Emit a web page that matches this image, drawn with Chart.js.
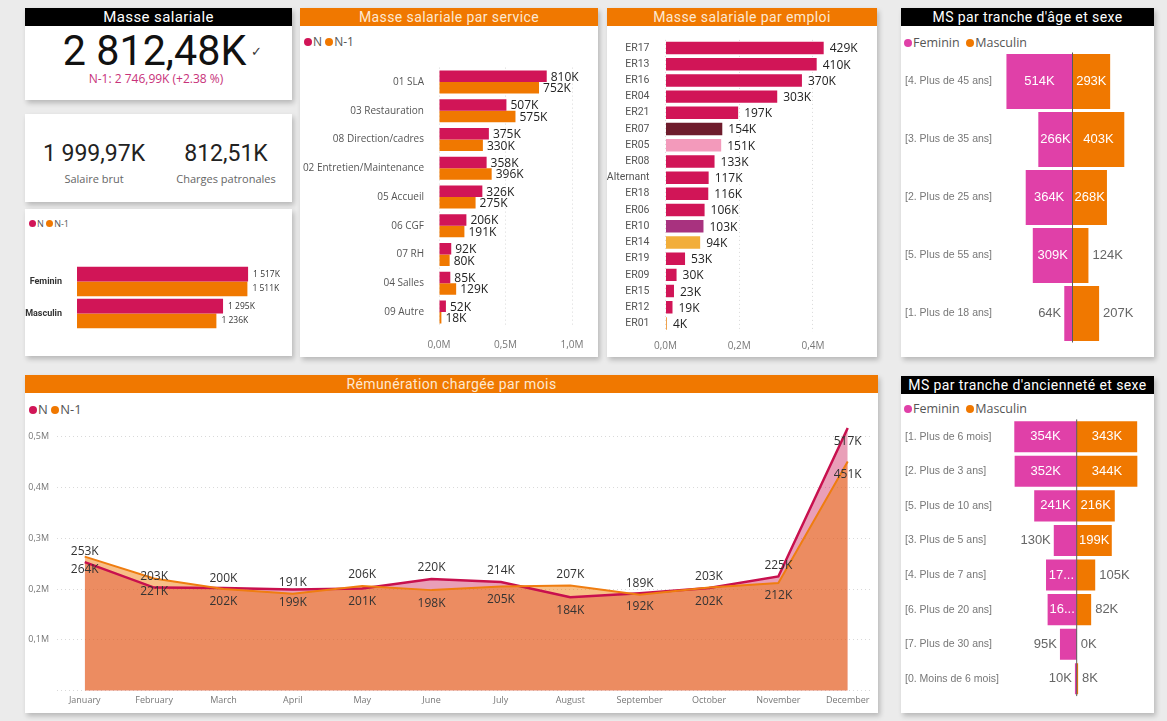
<!DOCTYPE html>
<html lang="fr">
<head>
<meta charset="utf-8">
<title>Masse salariale</title>
<script src="https://cdn.jsdelivr.net/npm/chart.js@4.4.0/dist/chart.umd.min.js"></script>
<style>
  html, body { margin: 0; padding: 0; }
  body {
    width: 1167px; height: 721px; overflow: hidden; position: relative;
    background: #ebebeb; font-family: "Open Sans", "Noto Sans", sans-serif; color: #222;
  }
  .panel { position: absolute; background: #fff; box-shadow: 2px 3px 5px rgba(0,0,0,0.22); }
  .head {
    height: 18px; line-height: 18px; text-align: center; color: #fff;
    font-family: Roboto, sans-serif; font-size: 14px; letter-spacing: 0.4px;
  }
  .black { background: #000; }
  .orange { background: #f07800; color: #fde8d2; }
  .box { position: absolute; }
  .box canvas { display: block; }
  .legend { position: absolute; font-size: 12px; color: #555; white-space: nowrap; }
  .dot { display: inline-block; width: 8px; height: 8px; border-radius: 50%; margin-right: 1px; }
</style>
</head>
<body>

<!-- cartes KPI -->
<div class="panel" style="left:25px;top:8px;width:267px;height:92px">
  <div class="head black" style="font-size:15px">Masse salariale</div>
  <div id="kpiMain" style="position:absolute;left:0;top:19px;width:260px;text-align:center;font-family:Roboto;font-size:43px;line-height:47px;color:#111">
    <span style="display:inline-block;transform:scaleX(0.96)"></span></div>
  <div style="position:absolute;left:226px;top:34px;font-size:13px;color:#333">&#10003;</div>
  <div id="kpiPrev" style="position:absolute;left:0;top:62px;width:262px;text-align:center;font-size:12px;color:#c8327a"></div>
</div>

<div class="panel" style="left:25px;top:114px;width:267px;height:88px">
  <div id="kpiBrut" style="position:absolute;left:0;top:26px;width:138px;text-align:center;font-family:Roboto;font-size:23px;color:#222"></div>
  <div style="position:absolute;left:0;top:57px;width:138px;text-align:center;font-size:11px;color:#666">Salaire brut</div>
  <div id="kpiCharges" style="position:absolute;left:126px;top:26px;width:150px;text-align:center;font-family:Roboto;font-size:23px;color:#222"></div>
  <div style="position:absolute;left:126px;top:57px;width:150px;text-align:center;font-size:11px;color:#666">Charges patronales</div>
</div>

<div class="panel" style="left:25px;top:209px;width:267px;height:147px"></div>
<div class="legend" style="left:29px;top:217px;font-size:9px"><span class="dot" style="background:#d11557;width:7px;height:7px"></span>N <span class="dot" style="background:#f07800;width:7px;height:7px"></span>N-1</div>
<div class="box" style="left:25px;top:240px;width:267px;height:110px"><canvas id="sexeChart"></canvas></div>

<!-- service -->
<div class="panel" style="left:300px;top:8px;width:298px;height:349px">
  <div class="head orange">Masse salariale par service</div>
</div>
<div class="legend" style="left:304px;top:33px"><span class="dot" style="background:#d11557"></span>N <span class="dot" style="background:#f07800"></span>N-1</div>
<div class="box" style="left:300px;top:50px;width:298px;height:307px"><canvas id="serviceChart"></canvas></div>

<!-- emploi -->
<div class="panel" style="left:607px;top:8px;width:270px;height:349px">
  <div class="head orange">Masse salariale par emploi</div>
</div>
<div class="box" style="left:607px;top:30px;width:270px;height:327px"><canvas id="emploiChart"></canvas></div>

<!-- age -->
<div class="panel" style="left:901px;top:8px;width:253px;height:349px">
  <div class="head black">MS par tranche d'âge et sexe</div>
</div>
<div class="legend" style="left:904px;top:34px;font-size:12.5px"><span class="dot" style="background:#e040a8"></span>Feminin&nbsp; <span class="dot" style="background:#f07800"></span>Masculin</div>
<div class="box" style="left:901px;top:50px;width:253px;height:300px"><canvas id="ageChart"></canvas></div>

<!-- mois -->
<div class="panel" style="left:25px;top:375px;width:853px;height:338px">
  <div class="head orange">Rémunération chargée par mois</div>
</div>
<div class="legend" style="left:29px;top:400px;font-size:13px"><span class="dot" style="background:#d11557"></span>N <span class="dot" style="background:#f07800"></span>N-1</div>
<div class="box" style="left:25px;top:415px;width:853px;height:298px"><canvas id="moisChart"></canvas></div>

<!-- anciennete -->
<div class="panel" style="left:901px;top:376px;width:253px;height:337px">
  <div class="head black">MS par tranche d'ancienneté et sexe</div>
</div>
<div class="legend" style="left:904px;top:400px;font-size:12.5px"><span class="dot" style="background:#e040a8"></span>Feminin&nbsp; <span class="dot" style="background:#f07800"></span>Masculin</div>
<div class="box" style="left:901px;top:415px;width:253px;height:290px"><canvas id="ancChart"></canvas></div>

<script>
// ---- données (valeurs en K€) ----
const kpiTotal = '2 812,48K';
const kpiPrevious = 'N-1: 2 746,99K (+2.38 %)';
const kpiBrut = '1 999,97K';
const kpiCharges = '812,51K';

const sexes = ['Feminin', 'Masculin'];
const sexeN = [1517, 1295];
const sexeN1 = [1511, 1236];

const services = ['01 SLA', '03 Restauration', '08 Direction/cadres', '02 Entretien/Maintenance',
  '05 Accueil', '06 CGF', '07 RH', '04 Salles', '09 Autre'];
const serviceN = [810, 507, 375, 358, 326, 206, 92, 85, 52];
const serviceN1 = [752, 575, 330, 396, 275, 191, 80, 129, 18];

const emplois = ['ER17', 'ER13', 'ER16', 'ER04', 'ER21', 'ER07', 'ER05', 'ER08', 'Alternant',
  'ER18', 'ER06', 'ER10', 'ER14', 'ER19', 'ER09', 'ER15', 'ER12', 'ER01'];
const emploiValues = [429, 410, 370, 303, 197, 154, 151, 133, 117, 116, 106, 103, 94, 53, 30, 23, 19, 4];

const tranchesAge = ['[4. Plus de 45 ans]', '[3. Plus de 35 ans]', '[2. Plus de 25 ans]',
  '[5. Plus de 55 ans]', '[1. Plus de 18 ans]'];
const ageFeminin = [514, 266, 364, 309, 64];
const ageMasculin = [293, 403, 268, 124, 207];

const mois = ['January', 'February', 'March', 'April', 'May', 'June', 'July', 'August',
  'September', 'October', 'November', 'December'];
const moisN = [253, 203, 202, 199, 201, 220, 214, 184, 192, 202, 225, 517];
const moisN1 = [264, 221, 200, 191, 206, 198, 205, 207, 189, 203, 212, 451];

const tranchesAnc = ['[1. Plus de 6 mois]', '[2. Plus de 3 ans]', '[5. Plus de 10 ans]',
  '[3. Plus de 5 ans]', '[4. Plus de 7 ans]', '[6. Plus de 20 ans]', '[7. Plus de 30 ans]',
  '[0. Moins de 6 mois]'];
const ancFeminin = [354, 352, 241, 130, 174, 165, 95, 10];
const ancMasculin = [343, 344, 216, 199, 105, 82, 0, 8];

// ---- couleurs ----
const colN = '#d11557';
const colN1 = '#f07800';
const colFem = '#e040a8';
const emploiColors = emploiValues.map((v, i) => ({
  ER07: '#6e1c2c', ER05: '#f39abb', ER10: '#a8327f', ER14: '#f2ae3a', ER01: '#f0a048'
}[emplois[i]] || colN));

const segoe = '"Open Sans", "Noto Sans", sans-serif';
const arial = '"Liberation Sans", Arial, sans-serif';

document.querySelector('#kpiMain span').textContent = kpiTotal;
document.getElementById('kpiPrev').textContent = kpiPrevious;
document.getElementById('kpiBrut').textContent = kpiBrut;
document.getElementById('kpiCharges').textContent = kpiCharges;

Chart.defaults.animation = false;
Chart.defaults.responsive = true;
Chart.defaults.maintainAspectRatio = false;
Chart.defaults.plugins.legend.display = false;
Chart.defaults.plugins.tooltip.enabled = false;

const fmtK = v => Math.round(Math.abs(v)) + 'K';
const fmtSpaced = v => String(Math.round(v)).replace(/\B(?=(\d{3})+(?!\d))/g, ' ') + 'K';
const fmtM = v => (v / 1000).toFixed(1).replace('.', ',') + 'M';

// largeur/hauteur d'axe fixes, sans marge automatique
const fixWidth = w => s => { s.width = w; s.paddingTop = 0; s.paddingBottom = 0; };
const fixHeight = h => s => { s.height = h; s.paddingLeft = 0; s.paddingRight = 0; };

// étiquettes de valeurs (remplace chartjs-plugin-datalabels)
const valueLabels = {
  id: 'valueLabels',
  afterDatasetsDraw(chart, args, opts) {
    const ctx = chart.ctx;
    const area = chart.chartArea;
    ctx.save();
    ctx.textBaseline = 'middle';
    const x0 = chart.scales.x.getPixelForValue(0);
    if (opts.zeroLine) {
      ctx.strokeStyle = opts.zeroLine;
      ctx.lineWidth = 1;
      ctx.beginPath();
      ctx.moveTo(x0, area.top);
      ctx.lineTo(x0, area.bottom);
      ctx.stroke();
    }
    chart.data.datasets.forEach((ds, di) => {
      const meta = chart.getDatasetMeta(di);
      meta.data.forEach((el, i) => {
        const v = ds.data[i];
        const val = typeof v === 'object' ? v.y : v;
        ctx.font = opts.font;
        if (opts.mode === 'barEnd') {
          const p = el.getProps(['x', 'y'], true);
          ctx.fillStyle = opts.color;
          ctx.textAlign = 'left';
          ctx.fillText(opts.spaced ? fmtSpaced(val) : fmtK(val), p.x + (opts.gap || 4), p.y + (opts.dy || 0));
        } else if (opts.mode === 'pyramid') {
          const y = el.getProps(['y'], true).y;
          const end = chart.scales.x.getPixelForValue(val);
          const w = Math.abs(end - x0);
          const txt = fmtK(val);
          const tw = ctx.measureText(txt).width;
          const mid = (end + x0) / 2;
          const neg = val < 0;
          if (tw + 2 <= w) {
            ctx.fillStyle = '#fff';
            ctx.textAlign = 'center';
            ctx.fillText(txt, mid, y);
          } else if (w >= 28) {
            // trop étroit : texte tronqué comme Power BI
            let n = txt.length;
            while (n > 1 && ctx.measureText(txt.slice(0, n) + '...').width > w - 2) n--;
            ctx.fillStyle = '#fff';
            ctx.textAlign = 'center';
            ctx.fillText(txt.slice(0, n) + '...', mid, y);
          } else {
            ctx.fillStyle = '#666';
            ctx.textAlign = neg ? 'right' : 'left';
            ctx.fillText(txt, neg ? end - 3 : end + 4, y);
          }
        } else if (opts.mode === 'line') {
          const p = el.getProps(['x', 'y'], true);
          const above = opts.positions[di][i] === 'a';
          ctx.fillStyle = opts.color;
          ctx.textAlign = 'center';
          ctx.fillText(fmtK(val), p.x, above ? p.y - 11 : p.y + 13);
        }
      });
    });
    ctx.restore();
  }
};

const dotted = { display: false, dash: [1, 3] };
const gridDots = { color: '#d9d9d9', lineWidth: 1, drawTicks: false };

// --- N / N-1 par sexe ---
new Chart(document.getElementById('sexeChart'), {
  type: 'bar',
  data: {
    labels: sexes,
    datasets: [
      { label: 'N', data: sexeN, backgroundColor: colN },
      { label: 'N-1', data: sexeN1, backgroundColor: colN1 }
    ]
  },
  options: {
    indexAxis: 'y',
    layout: { padding: { top: 25.5, bottom: 20.5, right: 12, left: 0 } },
    datasets: { bar: { categoryPercentage: 0.92, barPercentage: 1 } },
    scales: {
      x: { display: false, min: 0, max: 1800 },
      y: {
        afterFit: fixWidth(52),
        grid: { display: false }, border: { display: false },
        ticks: { color: '#333', padding: 7, font: { family: 'Roboto', size: 9, weight: 'bold' } }
      }
    },
    plugins: { valueLabels: { mode: 'barEnd', spaced: true, font: '8.5px ' + segoe, color: '#333', gap: 5 } }
  },
  plugins: [valueLabels]
});

// --- par service ---
new Chart(document.getElementById('serviceChart'), {
  type: 'bar',
  data: {
    labels: services,
    datasets: [
      { label: 'N', data: serviceN, backgroundColor: colN },
      { label: 'N-1', data: serviceN1, backgroundColor: colN1 }
    ]
  },
  options: {
    indexAxis: 'y',
    layout: { padding: { top: 17.6, bottom: 2.6, right: 26, left: 0 } },
    datasets: { bar: { categoryPercentage: 0.8, barPercentage: 1 } },
    scales: {
      x: {
        min: 0, max: 1000,
        afterFit: fixHeight(28),
        grid: gridDots, border: dotted,
        ticks: { stepSize: 500, padding: 13, callback: fmtM, color: '#777', font: { family: segoe, size: 10 } }
      },
      y: {
        afterFit: fixWidth(139),
        grid: { display: false }, border: { display: false },
        ticks: { color: '#555', padding: 7, font: { family: segoe, size: 10 } }
      }
    },
    plugins: { valueLabels: { mode: 'barEnd', font: '12px ' + segoe, color: '#222', gap: 4, dy: 1 } }
  },
  plugins: [valueLabels]
});

// --- par emploi ---
new Chart(document.getElementById('emploiChart'), {
  type: 'bar',
  data: {
    labels: emplois,
    datasets: [{ label: 'N', data: emploiValues, backgroundColor: emploiColors }]
  },
  options: {
    indexAxis: 'y',
    layout: { padding: { top: 9.9, bottom: 1.4, right: 14, left: 0 } },
    datasets: { bar: { categoryPercentage: 0.77, barPercentage: 1 } },
    scales: {
      x: {
        min: 0, max: 535.6,
        afterFit: fixHeight(24),
        grid: gridDots, border: dotted,
        ticks: { stepSize: 200, includeBounds: false, padding: 8.5, callback: fmtM, color: '#777', font: { family: segoe, size: 10 } }
      },
      y: {
        afterFit: fixWidth(58.5),
        grid: { display: false }, border: { display: false },
        ticks: { color: '#555', padding: 8, autoSkip: false, font: { family: 'Roboto', size: 10.5 } }
      }
    },
    plugins: { valueLabels: { mode: 'barEnd', font: '12px ' + segoe, color: '#222', gap: 6, dy: 1 } }
  },
  plugins: [valueLabels]
});

// --- pyramides ---
function pyramid(id, labels, fem, masc, cfg) {
  return new Chart(document.getElementById(id), {
    type: 'bar',
    data: {
      labels: labels,
      datasets: [
        { label: 'Feminin', data: fem.map(v => -v), backgroundColor: colFem },
        { label: 'Masculin', data: masc, backgroundColor: colN1 }
      ]
    },
    options: {
      indexAxis: 'y',
      layout: { padding: cfg.padding },
      datasets: { bar: { categoryPercentage: cfg.thickness, barPercentage: 1 } },
      scales: {
        x: { display: false, stacked: true, min: -cfg.max, max: cfg.max },
        y: {
          stacked: true,
          afterFit: fixWidth(cfg.axisWidth),
          grid: { display: false }, border: { display: false },
          ticks: { color: '#777', crossAlign: 'far', autoSkip: false, font: { family: arial, size: 10.5 } }
        }
      },
      plugins: { valueLabels: { mode: 'pyramid', font: '13px ' + arial, zeroLine: '#5a5a5a' } }
    },
    plugins: [valueLabels]
  });
}

pyramid('ageChart', tranchesAge, ageFeminin, ageMasculin, {
  padding: { top: 2.5, bottom: 7.5, right: 4, left: 4 }, thickness: 0.95, max: 603, axisWidth: 90
});
pyramid('ancChart', tranchesAnc, ancFeminin, ancMasculin, {
  padding: { top: 4.4, bottom: 8.9, right: 0.6, left: 4 }, thickness: 0.9, max: 435, axisWidth: 95
});

// --- par mois ---
new Chart(document.getElementById('moisChart'), {
  type: 'line',
  data: {
    datasets: [
      {
        label: 'N', order: 1, data: moisN.map((v, i) => ({ x: i, y: v })),
        borderColor: '#c8104e', borderWidth: 2.5, backgroundColor: 'rgba(200,16,78,0.4)',
        fill: 'origin', pointRadius: 0, tension: 0
      },
      {
        label: 'N-1', order: 0, data: moisN1.map((v, i) => ({ x: i, y: v })),
        borderColor: '#ef7d10', borderWidth: 2, backgroundColor: 'rgba(240,118,0,0.47)',
        fill: 'origin', pointRadius: 0, tension: 0
      }
    ]
  },
  options: {
    layout: { padding: { top: 1.4, bottom: 2.3, right: 6, left: 0 } },
    scales: {
      x: {
        type: 'linear', min: -0.4, max: 11.35,
        afterFit: fixHeight(20),
        grid: { display: false, drawTicks: false }, border: { display: false },
        ticks: {
          stepSize: 1, includeBounds: false, autoSkip: false, maxRotation: 0, padding: 4,
          callback: v => mois[v] || '', color: '#777', font: { family: segoe, size: 9 }
        }
      },
      y: {
        min: 0, max: 540,
        afterFit: fixWidth(32),
        grid: gridDots, border: dotted,
        ticks: {
          stepSize: 100, includeBounds: false, padding: 8,
          callback: v => v === 0 ? '' : fmtM(v), color: '#777', font: { family: segoe, size: 9 }
        }
      }
    },
    plugins: {
      filler: { drawTime: 'beforeDatasetsDraw' },
      valueLabels: {
        mode: 'line', font: '12px ' + segoe, color: '#333',
        positions: [
          ['a', 'a', 'b', 'b', 'b', 'a', 'a', 'b', 'b', 'b', 'a', 'b'],
          ['b', 'b', 'a', 'a', 'a', 'b', 'b', 'a', 'a', 'a', 'b', 'b']
        ]
      }
    }
  },
  plugins: [valueLabels]
});
</script>
</body>
</html>
